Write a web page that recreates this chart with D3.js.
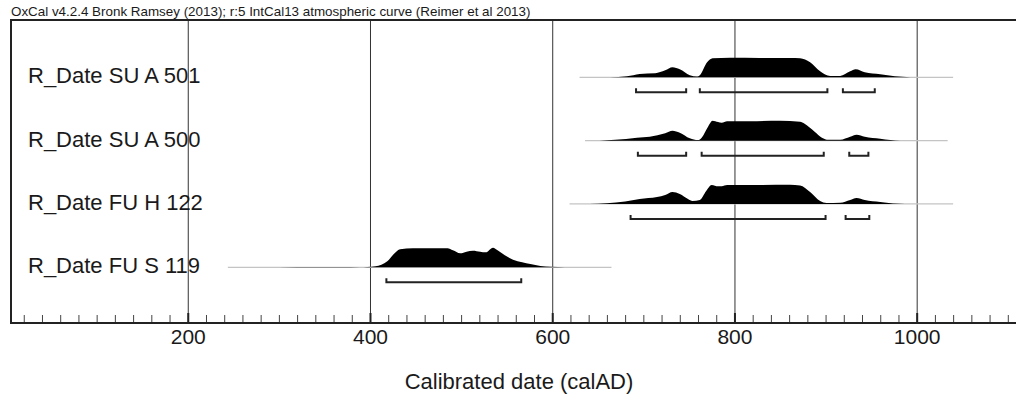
<!DOCTYPE html>
<html>
<head>
<meta charset="utf-8">
<script src="https://cdn.jsdelivr.net/npm/d3@7"></script>
<style>
  body { margin: 0; background: #fff; }
  text { font-family: "Liberation Sans", Arial, sans-serif; fill: #1a1a1a; }
</style>
</head>
<body>
<div id="chart"></div>
<script>

// Sample names, top to bottom
const samples = ["R_Date SU A 501", "R_Date SU A 500", "R_Date FU H 122", "R_Date FU S 119"];

// Full extent of each calibrated distribution (calAD)
const extents = [[630, 1040], [636, 1034], [619, 1040], [244, 665]];

// Probability density, [calAD, relative probability]
const densitySUA501 = [[663,0],[682,0.05],[696,0.17],[713,0.2],[724,0.35],[732,0.5],[740,0.4],[751,0.1],[759,0.04],
    [762,0.1],[770,0.75],[776,0.95],[795,0.98],[828,0.97],[861,0.96],[872,0.95],[883,0.75],[894,0.3],[905,0.07],
    [916,0.07],[927,0.3],[933,0.4],[943,0.25],[960,0.15],[976,0.05],[993,0]];
const densitySUA500 = [[652,0],[669,0.04],[693,0.15],[707,0.2],[724,0.37],[732,0.5],[740,0.4],[751,0.12],[760,0.03],
    [764,0.15],[771,0.7],[776,1.0],[782,0.93],[786,0.9],[792,0.97],[817,0.97],[850,0.99],[872,0.95],[877,0.85],
    [888,0.45],[896,0.15],[903,0.04],[916,0.05],[927,0.2],[934,0.3],[943,0.2],[960,0.1],[971,0.035],[982,0]];
const densityFUH122 = [[641,0],[660,0.04],[680,0.12],[696,0.25],[715,0.35],[724,0.45],[732,0.6],[740,0.5],[749,0.25],
    [754,0.15],[762,0.2],[769,0.65],[775,0.95],[782,0.88],[786,0.89],[792,0.95],[828,0.95],[861,0.96],[872,0.92],
    [883,0.6],[894,0.15],[901,0.05],[916,0.06],[927,0.2],[934,0.3],[943,0.2],[960,0.1],[974,0.025],[987,0]];
const densityFUS119 = [[300,0],[340,0.02],[367,0.01],[389,0],[397,0.015],[406,0.05],[419,0.3],[427,0.7],[433,0.9],
    [447,0.95],[466,0.95],[485,0.95],[491,0.85],[499,0.7],[506,0.78],[513,0.83],[521,0.78],[527,0.75],[535,0.98],
    [540,0.85],[548,0.6],[557,0.38],[567,0.25],[576,0.16],[587,0.07],[598,0.025],[614,0]];
const densities = [densitySUA501, densitySUA500, densityFUH122, densityFUS119];

// 95.4% highest probability ranges (calAD)
const ranges = [
    [[692, 747], [762, 902], [919, 954]],
    [[694, 747], [764, 898], [926, 947]],
    [[686, 900], [922, 948]],
    [[418, 566]]
];

const majorTicks = [200, 400, 600, 800, 1000];
const minorTicks = d3.range(20, 1101, 20).filter(d => d % 200 !== 0);

const title = "OxCal v4.2.4 Bronk Ramsey (2013); r:5 IntCal13 atmospheric curve (Reimer et al 2013)";
const xTitle = "Calibrated date (calAD)";

// Layout
const width = 1016, height = 397;
const margin = {top: 20, right: 0, bottom: 74, left: 11};
const plotW = width - margin.left - margin.right;
const plotH = height - margin.top - margin.bottom;

const svg = d3.select("#chart").append("svg")
    .attr("width", width)
    .attr("height", height);

const g = svg.append("g")
    .attr("transform", "translate(" + margin.left + "," + margin.top + ")");

// Scales
const x = d3.scaleLinear()
    .domain([6, 1109])
    .range([0, plotW]);

const row = d3.scalePoint()
    .domain(samples)
    .range([57.3, 247.3]);

const prob = d3.scaleLinear()
    .domain([0, 1])
    .range([0, 20]);

// Title
svg.append("text")
    .attr("x", 11)
    .attr("y", 16)
    .attr("font-size", 13.4)
    .attr("fill", "#333")
    .text(title);

// Vertical grid lines
g.append("g")
    .attr("class", "grid")
    .attr("transform", "translate(0," + plotH + ")")
    .call(d3.axisBottom(x).tickValues(majorTicks).tickSize(-plotH).tickFormat(""))
    .call(a => a.select(".domain").remove())
    .call(a => a.selectAll("line").attr("stroke", "#333").attr("stroke-width", 1));

// Minor ticks
g.append("g")
    .attr("transform", "translate(0," + plotH + ")")
    .call(d3.axisBottom(x).tickValues(minorTicks).tickSize(-8).tickFormat(""))
    .call(a => a.select(".domain").remove())
    .call(a => a.selectAll("line").attr("stroke", "#444"));

// Major ticks and labels
g.append("g")
    .attr("class", "x-axis")
    .attr("transform", "translate(0," + plotH + ")")
    .call(d3.axisBottom(x).tickValues(majorTicks).tickSize(-10).tickFormat(d3.format("d")))
    .call(a => a.select(".domain").remove())
    .call(a => a.selectAll("line").attr("stroke", "#222").attr("stroke-width", 2))
    .call(a => a.selectAll("text")
        .attr("font-size", 21)
        .attr("font-family", "Liberation Sans, Arial, sans-serif")
        .attr("fill", "#1a1a1a")
        .attr("dy", "0.71em")
        .attr("y", 6));

// Frame: left edge, top edge, axis line
g.append("path")
    .attr("d", "M" + plotW + ",0H0V" + plotH + "H" + plotW)
    .attr("fill", "none")
    .attr("stroke", "#222")
    .attr("stroke-width", 2);

// Axis title
svg.append("text")
    .attr("x", 519)
    .attr("y", 389)
    .attr("text-anchor", "middle")
    .attr("font-size", 22)
    .text(xTitle);

// Rows
const rows = g.selectAll(".row")
    .data(samples)
    .enter()
    .append("g")
    .attr("class", "row")
    .attr("transform", d => "translate(0," + row(d) + ")");

rows.append("text")
    .attr("x", 17)
    .attr("y", 6)
    .attr("font-size", 22)
    .text(d => d);

// Thin baseline across full extent
rows.append("line")
    .attr("x1", (d, i) => x(extents[i][0]))
    .attr("x2", (d, i) => x(extents[i][1]))
    .attr("stroke", "#c4c4c4")
    .attr("stroke-width", 1.2);

// Density shape
const area = d3.area()
    .x(d => x(d[0]))
    .y0(0)
    .y1(d => -prob(d[1]))
    .curve(d3.curveMonotoneX);

rows.append("path")
    .attr("d", (d, i) => area(densities[i]))
    .attr("fill", "#000");

// Range brackets
rows.each(function(d, i) {
    d3.select(this).selectAll(".bracket")
        .data(ranges[i])
        .enter()
        .append("path")
        .attr("class", "bracket")
        .attr("d", r => "M" + x(r[0]) + ",11V15H" + x(r[1]) + "V11")
        .attr("fill", "none")
        .attr("stroke", "#222")
        .attr("stroke-width", 2);
});

</script>
</body>
</html>
